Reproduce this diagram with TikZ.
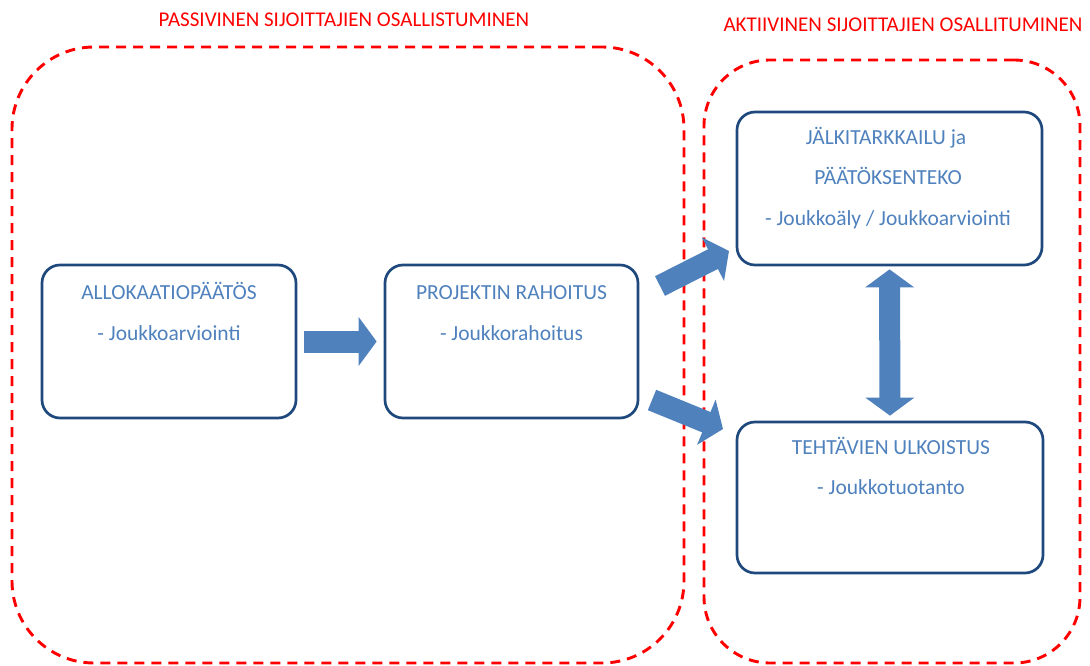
\documentclass[tikz,border=0pt]{standalone}
\usepackage{fontspec}
\setmainfont{Carlito}
\usetikzlibrary{arrows.meta}
\definecolor{boxblue}{HTML}{1F497D}
\definecolor{txtblue}{HTML}{4F81BD}
\definecolor{arrblue}{HTML}{4F81BD}
\begin{document}
\begin{tikzpicture}[x=1pt,y=-1pt,
  zone/.style={draw=red, line width=2.9pt, dash pattern=on 10pt off 7pt},
  stepbox/.style={draw=boxblue, line width=2.7pt, rounded corners=18pt, inner sep=0pt},
  txt/.style={text=txtblue, font=\fontsize{21.5}{25}\selectfont, anchor=base, inner sep=0pt},
  zonelabel/.style={text=red, font=\fontsize{21}{25}\selectfont, anchor=base, inner sep=0pt},
  blockarrow/.style={draw=arrblue, line width=22pt, line cap=butt, -{Triangle[length=18pt,width=48pt]}},
  dblarrow/.style={draw=arrblue, line width=21pt, line cap=butt, {Triangle[length=18pt,width=48pt]}-{Triangle[length=18pt,width=48pt]}}
]
\useasboundingbox (0,0) rectangle (1090,666);

% zones
\node[zone, rounded corners=82pt, minimum width=672pt, minimum height=616pt, inner sep=0pt] (passive) at (348,355) {};
\node[zone, rounded corners=66pt, minimum width=376pt, minimum height=603pt, inner sep=0pt] (active) at (892,361.5) {};
\node[zonelabel] (passlbl) at (344,27) {PASSIVINEN SIJOITTAJIEN OSALLISTUMINEN};
\node[zonelabel] (actlbl) at (903,32) {AKTIIVINEN SIJOITTAJIEN OSALLITUMINEN};

% boxes
\node[stepbox, minimum width=254pt, minimum height=153pt] (alloc) at (169,341.5) {};
\node[stepbox, minimum width=253pt, minimum height=153pt] (proj) at (511.5,341.5) {};
\node[stepbox, minimum width=305pt, minimum height=153pt] (jalki) at (889.5,188.5) {};
\node[stepbox, minimum width=306pt, minimum height=151pt] (teht) at (890,497.5) {};

% texts
\node[txt] (alloc1) at (169,299) {ALLOKAATIOPÄÄTÖS};
\node[txt] (alloc2) at (169,340) {- Joukkoarviointi};
\node[txt] (proj1) at (511.5,299) {PROJEKTIN RAHOITUS};
\node[txt] (proj2) at (511.5,340) {- Joukkorahoitus};
\node[txt] (jalki1) at (886,145) {JÄLKITARKKAILU ja};
\node[txt] (jalki2) at (888,185) {PÄÄTÖKSENTEKO};
\node[txt] (jalki3) at (888,225) {- Joukkoäly / Joukkoarviointi};
\node[txt] (teht1) at (891,454) {TEHTÄVIEN ULKOISTUS};
\node[txt] (teht2) at (891,494) {- Joukkotuotanto};

% arrows
\draw[blockarrow, shorten <=7pt, shorten >=7pt] (alloc.east) -- (proj.east -| proj.west);
\coordinate (a2s) at (660,286);
\coordinate (a2e) at (729,251);
\coordinate (a3s) at (652,400);
\coordinate (a3e) at (723,429);
\draw[blockarrow] (a2s) -- (a2e);
\draw[blockarrow] (a3s) -- (a3e);
\draw[dblarrow, shorten <=3pt, shorten >=5pt] (jalki.south) -- (teht.north);
\end{tikzpicture}
\end{document}
